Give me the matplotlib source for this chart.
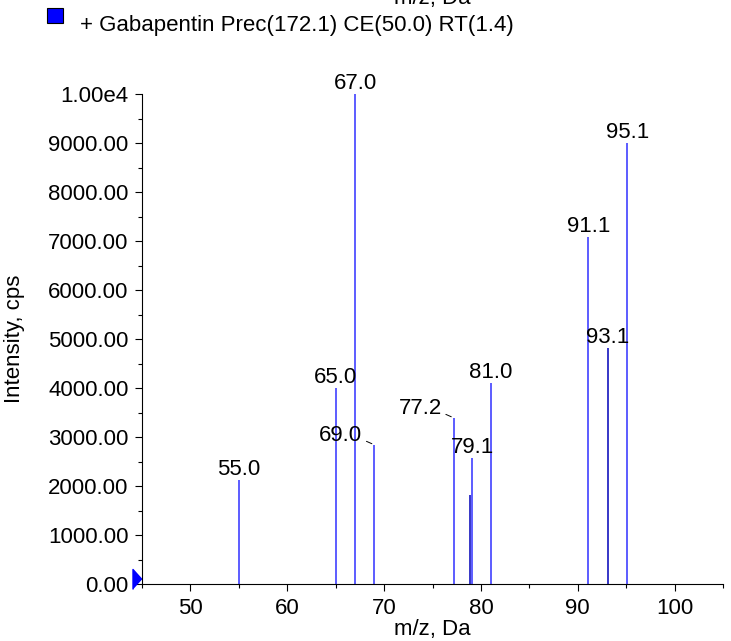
import numpy as np
import matplotlib
matplotlib.use('Agg')
import matplotlib.pyplot as plt
from matplotlib.patches import Rectangle
from matplotlib.transforms import offset_copy
from matplotlib.ticker import MultipleLocator, FuncFormatter

plt.rcParams['font.family'] = ['Liberation Sans', 'DejaVu Sans']

# peak list
mz = [55.0, 65.0, 67.0, 69.0, 77.2, 78.9, 79.1, 81.0, 91.1, 93.1, 95.1]
intensity = [2130, 4010, 10000, 2840, 3390, 1810, 2570, 4100, 7090, 4810, 9010]
labels = ['55.0', '65.0', '67.0', '69.0', '77.2', '', '79.1', '81.0', '91.1', '93.1', '95.1']
dark = [False, False, False, False, False, True, False, False, False, True, False]

title = '+ Gabapentin Prec(172.1) CE(50.0) RT(1.4)'

fig = plt.figure(figsize=(7.31, 6.41), dpi=100)
ax = fig.add_axes([142/731, 57/641, 581/731, 490/641])

for x, y, d in zip(mz, intensity, dark):
    ax.vlines(x, 0, y, color='#0000b8' if d else '#3030ff', lw=1.1)

for x, y, lab in zip(mz, intensity, labels):
    if not lab:
        continue
    if lab in ('69.0', '77.2'):
        ax.annotate(lab, (x, y), xytext=(-12, 4), textcoords='offset pixels',
                    ha='right', va='baseline', fontsize=16,
                    arrowprops=dict(arrowstyle='-', color='black', lw=0.7,
                                    shrinkA=1, shrinkB=2, relpos=(1.0, 0.3)))
    else:
        ax.annotate(lab, (x, y), xytext=(0, 5), textcoords='offset pixels',
                    ha='center', va='baseline', fontsize=16)

ax.set_xlim(45, 105)
ax.set_ylim(0, 10000)
ax.xaxis.set_major_locator(MultipleLocator(10))
ax.xaxis.set_minor_locator(MultipleLocator(5))
ax.yaxis.set_major_locator(MultipleLocator(1000))
ax.yaxis.set_minor_locator(MultipleLocator(500))
ax.yaxis.set_major_formatter(FuncFormatter(lambda v, p: '1.00e4' if v >= 10000 else '%.2f' % v))
ax.tick_params(which='major', direction='out', length=5.3, width=0.8, labelsize=16, pad=4.5)
ax.tick_params(which='minor', direction='out', length=3.2, width=0.8)
for s in ['top', 'right']:
    ax.spines[s].set_visible(False)
for s in ['left', 'bottom']:
    ax.spines[s].set_linewidth(0.8)

ax.set_xlabel('m/z, Da', fontsize=16, labelpad=0.5)
ax.set_ylabel('Intensity, cps', fontsize=16)
ax.yaxis.set_label_coords(-0.201, 0.5)

# blue triangle marker at the baseline
tri = offset_copy(ax.transData, fig=fig, x=-4.8, y=4.7, units='dots')
ax.plot([45], [0], marker=[(-0.45, -1), (-0.45, 1), (0.45, 0)], ms=14.4,
        color='#0000ff', mec='#0000ff', transform=tri, clip_on=False)

# legend block and the clipped axis title of the panel above
fig.add_artist(Rectangle((47/731, (641-23)/641), 16/731, 15/641,
                         transform=fig.transFigure, facecolor='#0000ff',
                         edgecolor='black', lw=0.8))
fig.text(80/731, (641-31)/641, title, fontsize=16, va='baseline', ha='left')
fig.text(432/731, (641-4)/641, 'm/z, Da', fontsize=16, va='baseline', ha='center')

plt.savefig('out.png')
